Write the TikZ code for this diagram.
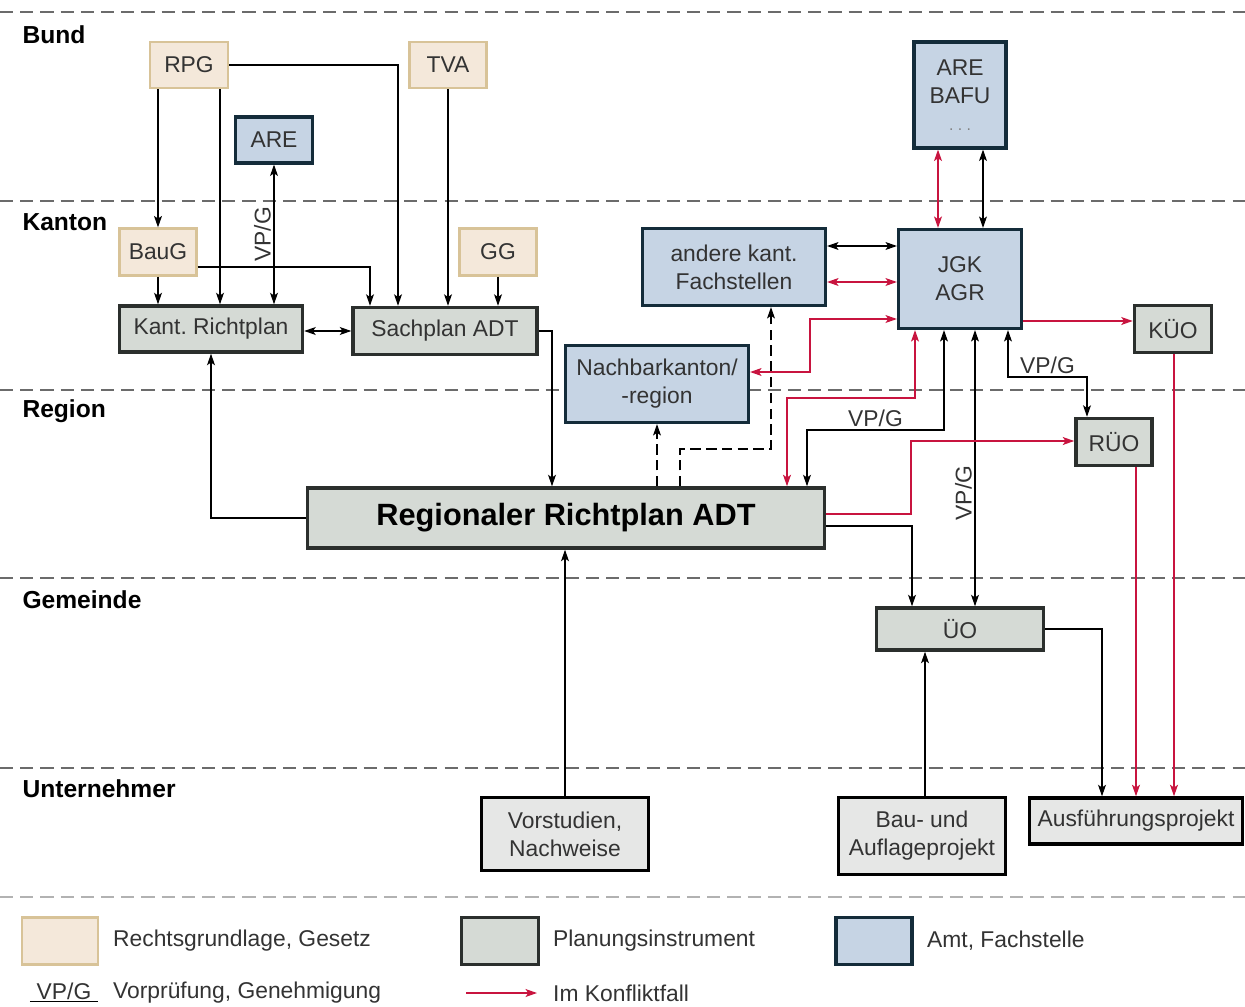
\documentclass[tikz,border=0pt]{standalone}
\usepackage{fontspec}
\setmainfont{Liberation Sans}
\usetikzlibrary{arrows.meta,positioning}
\frenchspacing

\definecolor{tanfill}{HTML}{F4E8DA}
\definecolor{tanline}{HTML}{D8C398}
\definecolor{grayfill}{HTML}{D5DAD5}
\definecolor{projfill}{HTML}{E6E7E6}
\definecolor{grayline}{HTML}{2B2F2D}
\definecolor{bluefill}{HTML}{C6D4E4}
\definecolor{blueline}{HTML}{142C3A}
\definecolor{konflikt}{HTML}{C8143F}
\definecolor{textgray}{HTML}{333333}

\tikzset{
  wh/.style 2 args={minimum width=#1*0.02cm, minimum height=#2*0.02cm},
  box/.style={inner sep=0pt, align=center, text=textgray, font=\fontsize{13}{16}\selectfont},
  gesetz/.style={box, draw=tanline, fill=tanfill, line width=1.3pt},
  instrument/.style={box, draw=grayline, fill=grayfill, line width=2pt},
  projekt/.style={box, draw=black, fill=projfill, line width=2pt},
  amt/.style={box, draw=blueline, fill=bluefill, line width=1.8pt},
  lane/.style={anchor=west, inner sep=0pt, font=\bfseries\fontsize{14}{16}\selectfont},
  lbl/.style={inner sep=1.5pt, text=textgray, font=\fontsize{13}{15}\selectfont},
  konf/.style={konflikt, line width=0.75pt},
  grenze/.style={draw=black!58, line width=0.8pt, dash pattern=on 7.5pt off 4pt},
}

\begin{document}
\begin{tikzpicture}[x=0.02cm, y=-0.02cm, >={Stealth[length=6.5pt,width=4.5pt,inset=1.5pt]}, line width=0.6pt]
    \useasboundingbox (0,0) rectangle (1245,1007);

    % Ebenen
    \foreach \y in {12,201,390,578,768}
        \draw[grenze] (0,\y) -- (1245,\y);
    \draw[grenze, draw=black!30] (0,897) -- (1245,897);
    \node[lane] (bund)   at (22,35)  {Bund};
    \node[lane] (kanton) at (22,222) {Kanton};
    \node[lane] (region) at (22,411) {Region};
    \node[lane] (gemeinde) at (22,600) {Gemeinde};
    \node[lane] (unternehmer) at (22,789) {Unternehmer};

    % Nodes
    \node[gesetz, wh={78}{46}]      (rpg)      at (189,65)  {RPG};
    \node[gesetz, wh={77}{46}]      (tva)      at (448,65)  {TVA};
    \node[amt, wh={77}{46}]         (are)      at (274,140) {ARE};
    \node[amt, wh={92}{106}]        (arebafu)  at (960,95)  {ARE\\BAFU\\[-1pt]{\fontsize{9}{10}\selectfont\color{black!50}. . .}};
    \node[gesetz, wh={77}{47}]      (baug)     at (158,252) {BauG};
    \node[gesetz, wh={77}{47}]      (gg)       at (498,252) {GG};
    \node[instrument, wh={183}{46}] (kantrp)   at (211,329) {Kant. Richtplan};
    \node[instrument, wh={184}{47}] (sachplan) at (445,331) {Sachplan ADT};
    \node[amt, wh={183}{77}]        (andere)   at (734,267) {andere kant.\\Fachstellen};
    \node[amt, wh={123}{99}]        (jgk)      at (960,279) {JGK\\AGR};
    \node[instrument, wh={77}{47}]  (kuo)      at (1173,329) {KÜO};
    \node[amt, wh={183}{77}]        (nachbar)  at (657,384) {Nachbarkanton/\\-region};
    \node[instrument, wh={76}{47}]  (ruo)      at (1114,442) {RÜO};
    \node[instrument, wh={517}{60}, font=\bfseries\fontsize{17.5}{20}\selectfont, text=black]
                                    (regrp)    at (566,518) {Regionaler Richtplan ADT};
    \node[instrument, wh={167}{42}] (uo)       at (960,629) {ÜO};
    \node[projekt, wh={167}{73}]    (vorstudien) at (565,834) {Vorstudien,\\Nachweise};
    \node[projekt, wh={167}{77}]    (bauauflage) at (922,836) {Bau- und\\Auflageprojekt};
    \node[projekt, wh={213}{46}]    (ausfuehrung) at (1136,821) {Ausführungsprojekt};

    % Paths Bund/Kanton
    \draw[->] (rpg.south -| baug.north) -- (baug.north);
    \draw[->] (220,0 |- rpg.south) -- (220,0 |- kantrp.north);
    \draw[->] (rpg.east) -| (398,0 |- sachplan.north);
    \draw[->] (tva.south) -- (tva.south |- sachplan.north);
    \draw[<->] (are.south) -- (are.south |- kantrp.north)
        node[lbl, midway, rotate=90, anchor=south] {VP/G};
    \draw[->] (baug.south) -- (baug.south |- kantrp.north);
    \draw[->] (baug.east |- 0,267) -| (370,0 |- sachplan.north);
    \draw[->] (gg.south) -- (gg.south |- sachplan.north);
    \draw[<->] (kantrp.east |- sachplan.west) -- (sachplan.west);
    \draw[<->] (andere.east |- 0,246) -- (jgk.west |- 0,246);
    \draw[<->, konf] (andere.east |- 0,282) -- (jgk.west |- 0,282);
    \draw[<->, konf] (938,0 |- arebafu.south) -- (938,0 |- jgk.north);
    \draw[<->] (983,0 |- arebafu.south) -- (983,0 |- jgk.north);
    \draw[->, konf] (jgk.east |- 0,321) -- (kuo.west |- 0,321);

    % Paths Region
    \draw[->] (sachplan.east) -| (552,0 |- regrp.north);
    \draw[->] (regrp.west) -| (kantrp.south);
    \draw[->, dash pattern=on 6pt off 3pt] (nachbar.south |- regrp.north) -- (nachbar.south);
    \draw[->, dash pattern=on 6pt off 3pt] (680,0 |- regrp.north) |- (771,449) -- (771,0 |- andere.south);
    \draw[<->, konf] (jgk.west |- 0,319) -| (810,372) -- (nachbar.east |- 0,372);
    \draw[<->, konf] (787,0 |- regrp.north) |- (915,398) -- (915,0 |- jgk.south);
    \draw[<->] (807,0 |- regrp.north) |- node[lbl, pos=0.75, above] {VP/G} (944,430) -- (944,0 |- jgk.south);
    \draw[<->] (975,0 |- jgk.south) -- (975,0 |- uo.north)
        node[lbl, pos=0.59, rotate=90, anchor=south] {VP/G};
    \draw[<->] (1008,0 |- jgk.south) |- node[lbl, pos=0.75, above] {VP/G} (1087,377) -- (1087,0 |- ruo.north);
    \draw[->, konf] (regrp.east |- 0,514) -| (911,441) -- (ruo.west |- 0,441);
    \draw[->] (regrp.east |- 0,526) -| (912,0 |- uo.north);

    % Paths Gemeinde/Unternehmer
    \draw[->] (vorstudien.north) -- (vorstudien.north |- regrp.south);
    \draw[->] (925,0 |- bauauflage.north) -- (925,0 |- uo.south);
    \draw[->] (uo.east) -| (1102,0 |- ausfuehrung.north);
    \draw[->, konf] (1136,0 |- ruo.south) -- (1136,0 |- ausfuehrung.north);
    \draw[->, konf] (1174,0 |- kuo.south) -- (1174,0 |- ausfuehrung.north);

    % Legende
    \node[gesetz, wh={76}{47}]     (leggesetz) at (60,941)  {};
    \node[lbl, anchor=west]        (legtext1)  at (110,941) {Rechtsgrundlage, Gesetz};
    \node[instrument, wh={77}{47}] (leginstr)  at (500,941) {};
    \node[lbl, anchor=west]        (legtext2)  at (550,941) {Planungsinstrument};
    \node[amt, wh={76}{47}]        (legamt)    at (874,941) {};
    \node[lbl, anchor=west]        (legtext3)  at (924,941) {Amt, Fachstelle};
    \node[lbl, minimum width=67*0.02cm, inner sep=1pt] (legvp) at (64,991) {VP/G};
    \draw (legvp.south west) -- (legvp.south east);
    \node[lbl, anchor=west]        (legtext4)  at (110,993) {Vorprüfung, Genehmigung};
    \coordinate (kfa) at (466,993);
    \coordinate (kfb) at (537,993);
    \draw[->, konf] (kfa) -- (kfb);
    \node[lbl, anchor=west]        (legtext5)  at (550,993) {Im Konfliktfall};
\end{tikzpicture}
\end{document}
